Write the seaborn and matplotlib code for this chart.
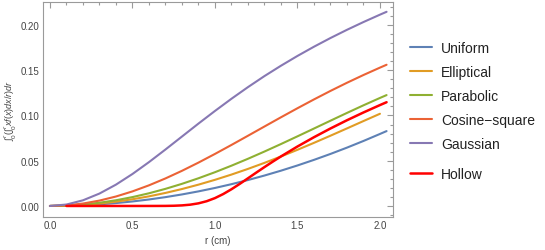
import numpy as np
import pandas as pd
import matplotlib
matplotlib.use("Agg")
import matplotlib.pyplot as plt
import seaborn as sns
from matplotlib.ticker import MultipleLocator, FormatStrFormatter
from matplotlib.lines import Line2D

# ---------------- data ----------------
r = [0.0, 0.1, 0.2, 0.3, 0.4, 0.5, 0.6, 0.7, 0.8, 0.9, 1.0, 1.1, 1.2, 1.3,
     1.4, 1.5, 1.6, 1.7, 1.8, 1.9, 2.0, 2.04]
uniform = [0.0, 0.00020, 0.00080, 0.00179, 0.00318, 0.00497, 0.00716, 0.00975,
           0.01273, 0.01611, 0.01989, 0.02407, 0.02865, 0.03362, 0.03899,
           0.04476, 0.05093, 0.05749, 0.06446, 0.07182, 0.07958, 0.08273]
r_ell = [0.0, 0.1, 0.2, 0.3, 0.4, 0.5, 0.6, 0.7, 0.8, 0.9, 1.0, 1.1, 1.2, 1.3,
         1.4, 1.5, 1.6, 1.7, 1.8, 1.9, 2.0]
elliptical = [0.0, 0.00030, 0.00119, 0.00268, 0.00475, 0.00740, 0.01062,
              0.01440, 0.01871, 0.02355, 0.02888, 0.03469, 0.04095, 0.04763,
              0.05468, 0.06207, 0.06974, 0.07764, 0.08570, 0.09383, 0.10189]
parabolic = [0.0, 0.00040, 0.00159, 0.00356, 0.00630, 0.00979, 0.01400,
             0.01890, 0.02445, 0.03060, 0.03730, 0.04450, 0.05214, 0.06014,
             0.06843, 0.07694, 0.08556, 0.09422, 0.10281, 0.11123, 0.11937,
             0.12252]
cosine_square = [0.0, 0.00067, 0.00266, 0.00594, 0.01044, 0.01610, 0.02279,
                 0.03042, 0.03883, 0.04791, 0.05749, 0.06743, 0.07758, 0.08781,
                 0.09799, 0.10799, 0.11773, 0.12713, 0.13614, 0.14472, 0.15288,
                 0.15604]
gaussian = [0.0, 0.00158, 0.00624, 0.01370, 0.02356, 0.03532, 0.04843, 0.06238,
            0.07670, 0.09103, 0.10498, 0.11846, 0.13132, 0.14353, 0.15497,
            0.16579, 0.17598, 0.18559, 0.19466, 0.20325, 0.21141, 0.21456]
r_hol = [0.1, 0.2, 0.3, 0.4, 0.5, 0.6, 0.65, 0.7, 0.75, 0.8, 0.85, 0.9, 0.95,
         1.0, 1.05, 1.1, 1.15, 1.2, 1.25, 1.3, 1.35, 1.4, 1.5, 1.6, 1.7, 1.8,
         1.9, 2.0, 2.04]
hollow = [0.0, 0.0, 0.0, 0.0, 0.0, 0.00001, 0.00003, 0.00007, 0.00023, 0.00062,
          0.00142, 0.00289, 0.00526, 0.00868, 0.01315, 0.01847, 0.02437,
          0.03057, 0.03682, 0.04296, 0.04894, 0.05472, 0.06570, 0.07597,
          0.08562, 0.09472, 0.10332, 0.11149, 0.11464]

labels = ["Uniform", "Elliptical", "Parabolic", "Cosine\u2212square", "Gaussian"]
series = [(r, uniform), (r_ell, elliptical), (r, parabolic), (r, cosine_square), (r, gaussian)]
colors = ["#5E81B5", "#E19C24", "#8FB032", "#EB6235", "#8778B3"]
hollow_label = "Hollow"
hollow_color = "#FF0000"

x_ticks = [0.0, 0.5, 1.0, 1.5, 2.0]
y_ticks = [0.00, 0.05, 0.10, 0.15, 0.20]

# ---------------- style ----------------
sns.set_style("white")
plt.rcParams["font.family"] = ["Liberation Sans", "DejaVu Sans"]
plt.rcParams["mathtext.fontset"] = "custom"
plt.rcParams["mathtext.rm"] = "Liberation Sans"
plt.rcParams["mathtext.it"] = "Liberation Sans:italic"
plt.rcParams["mathtext.bf"] = "Liberation Sans:bold"

W, H = 545, 251
fig = plt.figure(figsize=(W / 100, H / 100), dpi=100)
L, R, T, B = 43, 393, 3, 218
ax = fig.add_axes([L / W, 1 - B / H, (R - L) / W, (B - T) / H])

frame_col = "#9A9A9A"
text_col = "#444444"

handles = []
for (xs, ys), lab, col in zip(series, labels, colors):
    df = pd.DataFrame({"r": xs, "v": ys})
    sns.lineplot(data=df, x="r", y="v", ax=ax, color=col, lw=1.5,
                 estimator=None, sort=False, legend=False)
    handles.append(Line2D([], [], color=col, lw=1.5, label=lab))
dfh = pd.DataFrame({"r": r_hol, "v": hollow})
sns.lineplot(data=dfh, x="r", y="v", ax=ax, color=hollow_color, lw=1.8,
             estimator=None, sort=False, legend=False)
hh = Line2D([], [], color=hollow_color, lw=1.8, label=hollow_label)

ax.set_xlim(-0.042, 2.079)
ax.set_ylim(-0.0122, 0.2254)
ax.set_xticks(x_ticks)
ax.set_yticks(y_ticks)
ax.xaxis.set_major_formatter(FormatStrFormatter("%.1f"))
ax.yaxis.set_major_formatter(FormatStrFormatter("%.2f"))
ax.xaxis.set_minor_locator(MultipleLocator(0.1))
ax.yaxis.set_minor_locator(MultipleLocator(0.01))
ax.tick_params(which="both", direction="in", top=True, right=True,
               labeltop=False, labelright=False, color=frame_col, width=0.8)
ax.tick_params(which="major", length=4, labelsize=7, labelcolor=text_col, pad=2.5)
ax.tick_params(which="minor", length=2)
for s in ax.spines.values():
    s.set_color(frame_col)
    s.set_linewidth(0.8)

ax.set_xlabel("r (cm)", fontsize=7, color=text_col, labelpad=3)
ax.set_ylabel(r"$\int_0^r(\int_0^r xf(x)dx/r)dr$", fontsize=6.5, color=text_col)
ax.yaxis.set_label_coords(-0.068, 0.5)

leg1 = fig.legend(handles=handles, loc="upper left", bbox_to_anchor=(410 / W, 1 - 42 / H),
                  frameon=False, fontsize=10, handlelength=1.58, handletextpad=0.65,
                  labelspacing=0.72, borderpad=0, borderaxespad=0)
for t in leg1.get_texts():
    t.set_color("#222222")
leg2 = fig.legend(handles=[hh], loc="upper left", bbox_to_anchor=(410 / W, 1 - 168 / H),
                  frameon=False, fontsize=10, handlelength=1.58, handletextpad=0.65,
                  borderpad=0, borderaxespad=0)
for t in leg2.get_texts():
    t.set_color("#222222")

fig.savefig("out.png", dpi=100)
